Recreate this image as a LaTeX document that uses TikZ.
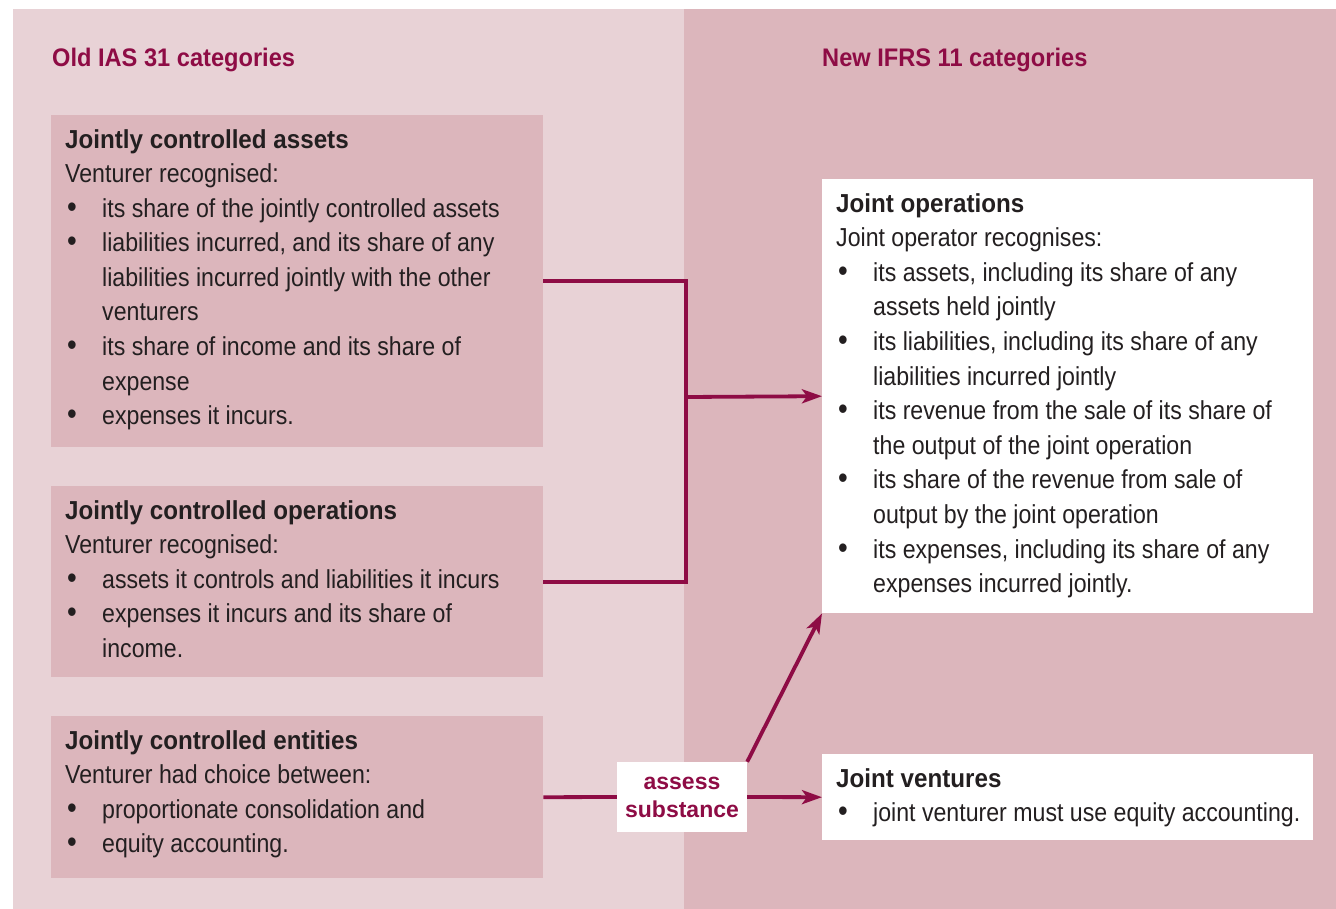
\documentclass[tikz,border=0pt]{standalone}
\usepackage{fontspec}
\usetikzlibrary{arrows.meta}
\setmainfont{Liberation Sans}[FakeStretch=0.89, BoldFeatures={FakeStretch=0.93}]
\newfontfamily\plainsans{Liberation Sans}
\definecolor{lightpanel}{HTML}{E8D2D6}
\definecolor{darkpanel}{HTML}{DCB6BC}
\definecolor{accent}{HTML}{8E0C45}
\definecolor{ink}{HTML}{231F20}
\newcommand\bul{\makebox[37pt][l]{\hspace{2pt}\scalebox{1.2}{\textbullet}}}
\newcommand\ind{\hspace*{37pt}}
\begin{document}
\begin{tikzpicture}[x=1pt,y=-1pt,
  boxnode/.style={fill=darkpanel, draw=none, anchor=north west, inner sep=0pt},
  whitebox/.style={fill=white, draw=none, anchor=north west, inner sep=0pt},
  body/.style={anchor=base west, inner sep=0pt, align=left, text=ink, font=\fontsize{26}{34.6}\selectfont},
  heading/.style={anchor=base west, inner sep=0pt, text=accent, font=\bfseries\fontsize{25.4}{30}\selectfont},
  conn/.style={draw=accent, line width=3.8pt},
  arr/.style={conn, -{Stealth[length=20pt, width=14pt, inset=5pt]}}
]
\useasboundingbox (0,0) rectangle (1336,909);
\fill[lightpanel] (13,9) rectangle (684,909);
\fill[darkpanel] (684,9) rectangle (1336,909);

\node[heading] (h1) at (52,67) {Old IAS 31 categories};
\node[heading] (h2) at (822,67) {New IFRS 11 categories};

\node[boxnode, minimum width=492pt, minimum height=332pt] (b1) at (51,115) {};
\node[boxnode, minimum width=492pt, minimum height=191pt] (b2) at (51,486) {};
\node[boxnode, minimum width=492pt, minimum height=162pt] (b3) at (51,716) {};
\node[whitebox, minimum width=491pt, minimum height=434pt] (jo) at (822,179) {};
\node[whitebox, minimum width=491pt, minimum height=86pt] (jv) at (822,754) {};
\node[fill=white, inner sep=0pt, minimum width=130pt, minimum height=70pt, align=center,
      text=accent, font=\plainsans\bfseries\fontsize{23}{28}\selectfont] (as) at (682,797) {assess\\substance};

% base anchor of a multi-line node = baseline of its last line
\node[body] (t1) at (65,424.8) {\textbf{Jointly controlled assets}\\
Venturer recognised:\\
\bul its share of the jointly controlled assets\\
\bul liabilities incurred, and its share of any\\
\ind liabilities incurred jointly with the other\\
\ind venturers\\
\bul its share of income and its share of\\
\ind expense\\
\bul expenses it incurs.};

\node[body] (t2) at (65,657.4) {\textbf{Jointly controlled operations}\\
Venturer recognised:\\
\bul assets it controls and liabilities it incurs\\
\bul expenses it incurs and its share of\\
\ind income.};

\node[body] (t3) at (65,852.8) {\textbf{Jointly controlled entities}\\
Venturer had choice between:\\
\bul proportionate consolidation and\\
\bul equity accounting.};

\node[body] (t4) at (836,592.6) {\textbf{Joint operations}\\
Joint operator recognises:\\
\bul its assets, including its share of any\\
\ind assets held jointly\\
\bul its liabilities, including its share of any\\
\ind liabilities incurred jointly\\
\bul its revenue from the sale of its share of\\
\ind the output of the joint operation\\
\bul its share of the revenue from sale of\\
\ind output by the joint operation\\
\bul its expenses, including its share of any\\
\ind expenses incurred jointly.};

\node[body] (t5) at (836,821.6) {\textbf{Joint ventures}\\
\bul joint venturer must use equity accounting.};

\coordinate (j) at (686,397);
\draw[conn] (b1.east) -| (j) |- (b2.east);
\draw[arr] (j) -- (jo.west);
\draw[conn] (b3.east) -- (as.west);
\draw[arr] (as.east) -- (jv.west);
\draw[arr] (as.north east) -- (jo.south west);
\end{tikzpicture}
\end{document}
